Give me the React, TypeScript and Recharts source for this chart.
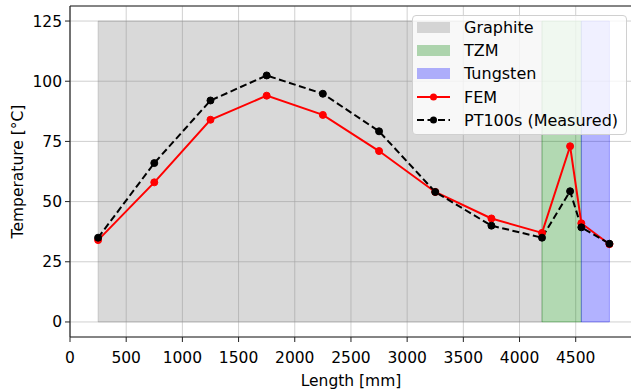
import {
  LineChart, Line, XAxis, YAxis, CartesianGrid, ReferenceArea,
  ReferenceLine, Legend, Label,
} from "recharts";

const LENGTH = [250, 750, 1250, 1750, 2250, 2750, 3250, 3750, 4200, 4450, 4550, 4800];
const FEM = [34, 58, 84, 94, 86, 71, 54, 43, 37, 73, 41, 32.3];
const MEASURED = [35, 66, 92, 102.4, 94.8, 79.2, 54, 40, 35, 54.3, 39.3, 32.5];

const X_TICKS = [0, 500, 1000, 1500, 2000, 2500, 3000, 3500, 4000, 4500];
const Y_TICKS = [0, 25, 50, 75, 100, 125];

const MATERIALS = [
  { name: "Graphite", from: 250, to: 4200, color: "#808080" },
  { name: "TZM", from: 4200, to: 4550, color: "#008000" },
  { name: "Tungsten", from: 4550, to: 4800, color: "#0000ff" },
];

const FONT = "'DejaVu Sans', sans-serif";

const data = LENGTH.map((x, i) => ({ x, fem: FEM[i], measured: MEASURED[i] }));

const LegendBox = () => (
  <div style={{
    background: "rgba(255,255,255,0.8)", border: "1px solid #d0d0d0", borderRadius: 4,
    padding: "0 8px 2px 4px", fontFamily: FONT, fontSize: 16, color: "#000",
  }}>
    {MATERIALS.map((m) => (
      <div key={m.name} style={{ display: "flex", alignItems: "center", height: 23.2 }}>
        <div style={{ width: 33, height: 11, background: m.color, opacity: 0.3, marginRight: 14 }} />
        {m.name}
      </div>
    ))}
    <div style={{ display: "flex", alignItems: "center", height: 23.2 }}>
      <svg width={33} height={10} style={{ marginRight: 14 }}>
        <line x1={0} x2={33} y1={5} y2={5} stroke="#ff0000" strokeWidth={2} />
        <circle cx={16.5} cy={5} r={3.5} fill="#ff0000" />
      </svg>
      FEM
    </div>
    <div style={{ display: "flex", alignItems: "center", height: 23.2 }}>
      <svg width={33} height={10} style={{ marginRight: 14 }}>
        <line x1={0} x2={33} y1={5} y2={5} stroke="#000" strokeWidth={2} strokeDasharray="7 3.5" />
        <circle cx={16.5} cy={5} r={3.5} fill="#000" />
      </svg>
      PT100s (Measured)
    </div>
  </div>
);

export default function App() {
  const tick = { fontSize: 15.5, fill: "#000", fontFamily: FONT };
  return (
    <div style={{ position: "absolute", left: 0, top: 0, width: 631, height: 390, overflow: "hidden", background: "#fff" }}>
      <LineChart width={640} height={390} data={data} margin={{ top: 6, right: 5, left: 0, bottom: 0 }}>
        <CartesianGrid stroke="#b0b0b0" strokeOpacity={0.6} strokeWidth={1} />
        <XAxis
          type="number" dataKey="x" domain={[0, 5027.5]} ticks={X_TICKS} interval={0}
          allowDataOverflow height={53} tick={tick} tickSize={5} tickMargin={10}
          stroke="#222" axisLine={{ stroke: "#222", strokeWidth: 1.2 }}
        >
          <Label content={() => (
            <text x={351} y={386} textAnchor="middle" fontFamily={FONT} fontSize={15.5} fill="#000">
              Length [mm]
            </text>
          )} />
        </XAxis>
        <YAxis
          type="number" domain={[-6.25, 131.25]} ticks={Y_TICKS} interval={0}
          allowDataOverflow width={70} tick={tick} tickSize={5} tickMargin={3}
          stroke="#222" axisLine={{ stroke: "#222", strokeWidth: 1.2 }}
        >
          <Label content={() => (
            <text x={18} y={171.5} transform="rotate(-90 18 171.5)" textAnchor="middle"
              dominantBaseline="central" fontFamily={FONT} fontSize={15.5} fill="#000">
              Temperature [°C]
            </text>
          )} />
        </YAxis>
        {MATERIALS.map((m) => (
          <ReferenceArea key={m.name} x1={m.from} x2={m.to} y1={0} y2={125}
            fill={m.color} fillOpacity={0.3} stroke={m.color} strokeOpacity={0.3} strokeWidth={1} />
        ))}
        <ReferenceLine y={131.25} stroke="#222" strokeWidth={1.2} />
        <Line
          dataKey="fem" stroke="#ff0000" strokeWidth={2} isAnimationActive={false}
          dot={{ r: 3.5, fill: "#ff0000", stroke: "#ff0000", strokeWidth: 1 }}
        />
        <Line
          dataKey="measured" stroke="#000" strokeWidth={2} strokeDasharray="7 3.5" isAnimationActive={false}
          dot={{ r: 3.5, fill: "#000", stroke: "#000", strokeWidth: 1, strokeDasharray: "0" }}
        />
        <Legend
          layout="vertical" align="center" verticalAlign="middle"
          wrapperStyle={{ top: 15, left: 412, width: "auto" }}
          content={() => <LegendBox />}
        />
      </LineChart>
    </div>
  );
}
